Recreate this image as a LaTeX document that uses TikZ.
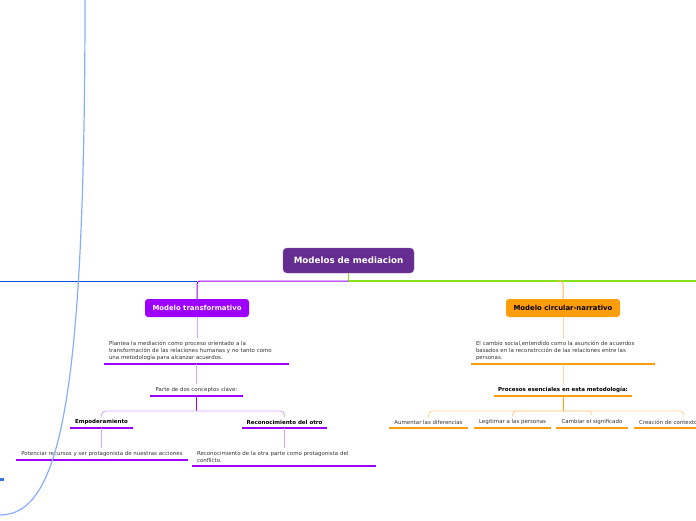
\documentclass[tikz,border=0pt]{standalone}
\usepackage{fontspec}
\setmainfont{DejaVu Sans}
\usetikzlibrary{calc,positioning}

\definecolor{rootpurple}{HTML}{662D91}
\definecolor{mainpurple}{HTML}{9D00FF}
\definecolor{lightpurple}{HTML}{D9A6FF}
\definecolor{mainorange}{HTML}{FF9D0A}
\definecolor{lightorange}{HTML}{FFD49A}
\definecolor{branchgreen}{HTML}{86E01E}
\definecolor{mainblue}{HTML}{0A4FE0}
\definecolor{curveblue}{HTML}{8AACFF}
\definecolor{textgrey}{HTML}{333333}

\tikzset{
  rootbox/.style={draw=rootpurple!80, fill=rootpurple, rounded corners=4pt, text=white,
    font=\fontsize{8.7}{10}\selectfont\bfseries, minimum width=131pt, minimum height=25pt},
  mainbox/.style={rounded corners=3pt, font=\fontsize{6.9}{8}\selectfont\bfseries,
    minimum height=18pt, inner xsep=4pt},
  topic/.style={anchor=south, inner xsep=5pt, inner ysep=3pt, text=textgrey,
    font=\fontsize{5.45}{7}\selectfont, align=left},
  label/.style={anchor=south, inner xsep=3pt, inner ysep=3pt, text=black,
    font=\fontsize{5.5}{7}\selectfont\bfseries},
  pbar/.style={draw=mainpurple, line width=2.6pt},
  obar/.style={draw=mainorange, line width=2.6pt},
  pline/.style={draw=lightpurple, line width=0.9pt},
  oline/.style={draw=lightorange, line width=0.9pt},
}

\begin{document}
\begin{tikzpicture}[x=1pt,y=-1pt]
        \useasboundingbox (0,0) rectangle (696,520);

        \node[rootbox] (root) at (348.5,260.5) {Modelos de mediacion};
        \coordinate (hub) at (348.5,281);
        \coordinate (leftend) at (0,281);
        \coordinate (rightend) at (696,281);

        \node[mainbox, fill=mainpurple, text=white, minimum width=104pt] (mt) at (197,308) {Modelo transformativo};
        \node[mainbox, fill=mainorange, text=black, minimum width=114pt] (mc) at (563,308) {Modelo circular-narrativo};

        \draw[branchgreen, line width=1.2pt] (root.south) -- (hub) -- (rightend);
        \draw[mainpurple, line width=1pt, rounded corners=3pt] (hub) -| (mt.north);
        \draw[mainblue, line width=1pt] (leftend) -- (leftend -| mt.north);
        \draw[mainorange!70, line width=1pt, rounded corners=3pt] ($(mc.north |- hub)+(-5,0)$) -| (mc.north);

        % transformativo
        \node[topic, text width=175pt] (pl) at (196.5,364) {Plantea la mediación como proceso orientado a la\\transformación de las relaciones humanas y no tanto como\\una metodología para alcanzar acuerdos.};
        \node[topic, minimum width=93pt, align=center] (pd) at (196.5,396) {Parte de dos conceptos clave:};
        \node[label, minimum width=63pt] (emp) at (101.5,428) {Empoderamiento};
        \node[label, minimum width=85pt] (rec) at (284.5,428) {Reconocimiento del otro};
        \node[topic, minimum width=170pt] (pot) at (102,460) {Potenciar recursos y ser protagonista de nuestras acciones};
        \node[topic, text width=174pt] (rco) at (284,466) {Reconocimiento de la otra parte como protagonista del\\conflicto.};

        \foreach \n in {pl,pd,emp,rec,pot,rco}
          \draw[pbar] (\n.south west) -- (\n.south east);

        \draw[pline] (mt.south) -- (mt.south |- pl.north);
        \draw[pline] (pl.south) -- (pl.south |- pd.north);
        \draw[mainpurple, line width=0.9pt] (pd.south) -- ++(0,15) coordinate (pbr);
        \draw[pline, rounded corners=4pt] (emp.north) |- (pbr) -| (rec.north);
        \draw[pline] (emp.south) -- (emp.south |- pot.north);
        \draw[pline] (rec.south) -- (rec.south |- rco.north);

        % circular-narrativo
        \node[topic, text width=174pt] (ec) at (563,364) {El cambio social,entendido como la asunción de acuerdos\\basados en la reconstrcción de las relaciones entre las\\personas.};
        \node[label, minimum width=138pt] (pe) at (563,396) {Procesos esenciales en esta metodología:};
        \node[topic, minimum width=77pt, align=center] (au) at (428.5,428) {Aumentar las diferencias};
        \node[topic, minimum width=77pt, align=center] (le) at (512.5,428) {Legitimar a las personas};
        \node[topic, minimum width=70pt, align=center] (ca) at (592,428) {Cambiar el significado};
        \node[topic, anchor=south west, text width=66pt] (cr) at (634,428) {Creación de contexto};
        \coordinate (crtop) at (684,417);

        \foreach \n in {ec,pe,au,le,ca,cr}
          \draw[obar] (\n.south west) -- (\n.south east);

        \draw[oline] (mc.south) -- (mc.south |- ec.north);
        \draw[oline] (ec.south) -- (ec.south |- pe.north);
        \draw[mainorange, line width=0.9pt] (pe.south) -- ++(0,15) coordinate (obr);
        \draw[oline, rounded corners=4pt] (au.north) |- (obr) -| (crtop);
        \draw[oline, rounded corners=4pt] (le.north) |- (obr);
        \draw[oline, rounded corners=4pt] (obr) -| (ca.north);

        % blue curve
        \coordinate (ctop) at (85,0);
        \coordinate (cbot) at (0,515);
        \draw[curveblue, line width=1.2pt] (ctop) .. controls (85,400) and (60,515) .. (cbot);
        \draw[mainblue!80, line width=3pt] (0,479) -- (4,479);
    \end{tikzpicture}
\end{document}
